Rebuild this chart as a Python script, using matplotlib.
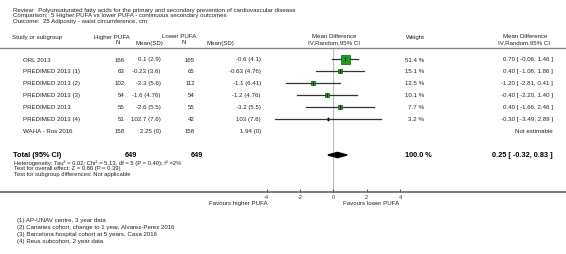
import matplotlib.pyplot as plt
import numpy as np

plt.rcParams['font.family'] = ['Liberation Sans', 'DejaVu Sans']

# study data
studies = ["ORL 2013", "PREDIMED 2013 (1)", "PREDIMED 2013 (2)", "PREDIMED 2013 (3)",
           "PREDIMED 2013", "PREDIMED 2013 (4)", "WAHA - Ros 2016"]
higher_n = [166, 63, 102, 54, 55, 51, 158]
higher_msd = ["0.1 (2.9)", "-0.23 (3.6)", "-2.3 (5.6)", "-1.6 (4.76)", "-2.6 (5.5)",
              "102.7 (7.6)", "2.25 (0)"]
lower_n = [165, 65, 112, 54, 55, 42, 158]
lower_msd = ["-0.6 (4.1)", "-0.63 (4.76)", "-1.1 (6.41)", "-1.2 (4.76)", "-3.2 (5.5)",
             "103 (7.6)", "1.94 (0)"]
weights = [51.4, 15.1, 12.5, 10.1, 7.7, 3.2, np.nan]
md = [0.70, 0.40, -1.20, -0.40, 0.40, -0.30, np.nan]
ci_lo = [-0.06, -1.06, -2.81, -2.20, -1.66, -3.49, np.nan]
ci_hi = [1.46, 1.86, 0.41, 1.40, 2.46, 2.89, np.nan]

total_n = [649, 649]
total_md = 0.25
total_lo = -0.32
total_hi = 0.83

ticks = [-4, -2, 0, 2, 4]

footnotes = ["(1) AP-UNAV centre, 3 year data",
             "(2) Canaries cohort, change to 1 year, Alvarez-Perez 2016",
             "(3) Barcelona hospital cohort at 5 years, Casa 2016",
             "(4) Reus subcohort, 2 year data"]

W, H = 566, 255
fig = plt.figure(figsize=(W / 100, H / 100), dpi=100)

# text layer in pixel coordinates
ax = fig.add_axes([0, 0, 1, 1])
ax.set_xlim(0, W)
ax.set_ylim(H, 0)
ax.axis('off')

# forest panel, x in mean-difference units
y_top, y_axis = 50, 193
fa = fig.add_axes([0, (H - y_axis) / H, 1, (y_axis - y_top) / H])
fa.patch.set_alpha(0)
px_per_unit = 16.67
x0 = 333.3
fa.set_xlim(-x0 / px_per_unit, (W - x0) / px_per_unit)
fa.set_ylim(y_axis, y_top)
for s in ['top', 'left', 'right']:
    fa.spines[s].set_visible(False)
fa.spines['bottom'].set_color('#666666')
fa.spines['bottom'].set_linewidth(1.2)
fa.set_yticks([])
fa.set_xticks(ticks)
fa.set_xticklabels([str(t) for t in ticks], fontsize=4, color='#333333')
fa.tick_params(axis='x', direction='in', length=2, width=0.6, pad=1.5, colors='#333333')

fs = 4.4
grey = '#222222'

ax.text(13, 10.5, "Review:  Polyunsaturated fatty acids for the primary and secondary prevention of cardiovascular disease",
        fontsize=fs, va='center', color=grey)
ax.text(13, 15.7, "Comparison:  5 Higher PUFA vs lower PUFA - continuous secondary outcomes",
        fontsize=fs, va='center', color=grey)
ax.text(13, 21, "Outcome:  25 Adiposity - waist circumference, cm",
        fontsize=fs, va='center', color=grey)

# headers
hy1, hy2 = 37, 43
ax.text(12, hy1, "Study or subgroup", fontsize=fs, va='center', color=grey)
ax.text(94, hy1, "Higher PUFA", fontsize=fs, va='center', color=grey)
ax.text(118, hy2, "N", fontsize=fs, va='center', ha='center', color=grey)
ax.text(149, hy2, "Mean(SD)", fontsize=fs, va='center', ha='center', color=grey)
ax.text(162, hy1, "Lower PUFA", fontsize=fs, va='center', color=grey)
ax.text(184, hy2, "N", fontsize=fs, va='center', ha='center', color=grey)
ax.text(220, hy2, "Mean(SD)", fontsize=fs, va='center', ha='center', color=grey)
ax.text(334, hy1, "Mean Difference", fontsize=fs, va='center', ha='center', color=grey)
ax.text(334, hy2, "IV,Random,95% CI", fontsize=fs, va='center', ha='center', color=grey)
ax.text(415, hy1, "Weight", fontsize=fs, va='center', ha='center', color=grey)
ax.text(525, hy1, "Mean Difference", fontsize=fs, va='center', ha='center', color=grey)
ax.text(524, hy2, "IV,Random,95% CI", fontsize=fs, va='center', ha='center', color=grey)
ax.axhline(49, color='#888888', lw=1)

# zero line
fa.plot([0, 0], [y_top, y_axis], color='#bbbbbb', lw=0.8, zorder=1)

row_y = [60, 72, 84, 96, 108, 120, 132]
for i, y in enumerate(row_y):
    ax.text(23, y, studies[i], fontsize=fs, va='center', color=grey)
    ax.text(125, y, str(higher_n[i]), fontsize=fs, va='center', ha='right', color=grey)
    ax.text(161, y, higher_msd[i], fontsize=fs, va='center', ha='right', color=grey)
    ax.text(195, y, str(lower_n[i]), fontsize=fs, va='center', ha='right', color=grey)
    ax.text(261, y, lower_msd[i], fontsize=fs, va='center', ha='right', color=grey)
    if np.isnan(md[i]):
        ax.text(553, y, "Not estimable", fontsize=fs, va='center', ha='right', color=grey)
        continue
    ax.text(424, y, "%.1f %%" % weights[i], fontsize=fs, va='center', ha='right', color=grey)
    ax.text(553, y, "%.2f [ %.2f, %.2f ]" % (md[i], ci_lo[i], ci_hi[i]),
            fontsize=fs, va='center', ha='right', color=grey)
    fa.plot([ci_lo[i], ci_hi[i]], [y, y], color='#333333', lw=0.9, zorder=2)
    side = 9 * np.sqrt(weights[i] / 51.4) * 0.72
    fa.plot(md[i], y, marker='s', ms=side, mfc='#1f9a1f', mec='#0a5a0a', mew=0.5, zorder=3)
    fa.plot(md[i], y, marker='|', ms=3, mew=0.6, color='#111111', zorder=4)

# total
ty = 156
ax.text(13, ty, "Total (95% CI)", fontsize=5.3, va='center', weight='bold', color='black')
ax.text(137, ty, str(total_n[0]), fontsize=5.3, va='center', ha='right', weight='bold')
ax.text(203, ty, str(total_n[1]), fontsize=5.3, va='center', ha='right', weight='bold')
ax.text(432, ty, "100.0 %", fontsize=5.3, va='center', ha='right', weight='bold')
ax.text(553, ty, "%.2f [ %.2f, %.2f ]" % (total_md, total_lo, total_hi),
        fontsize=5.3, va='center', ha='right', weight='bold')
fa.fill([total_lo, total_md, total_hi, total_md], [ty, ty - 2.6, ty, ty + 2.6],
        color='black', zorder=3)

sfs = 4.2
ax.text(14, 163, "Heterogeneity: Tau\u00b2 = 0.02; Chi\u00b2 = 5.13, df = 5 (P = 0.40); I\u00b2 =2%",
        fontsize=sfs, va='center', color=grey)
ax.text(14, 169, "Test for overall effect: Z = 0.86 (P = 0.39)", fontsize=sfs, va='center', color=grey)
ax.text(14, 175, "Test for subgroup differences: Not applicable", fontsize=sfs, va='center', color=grey)

ax.text(268, 204, "Favours higher PUFA", fontsize=fs, va='center', ha='right', color=grey)
ax.text(343, 204, "Favours lower PUFA", fontsize=fs, va='center', ha='left', color=grey)

for k, f in enumerate(footnotes):
    ax.text(17, 221 + 7 * k, f, fontsize=fs, va='center', color=grey)

fig.savefig('out.png', dpi=100)
